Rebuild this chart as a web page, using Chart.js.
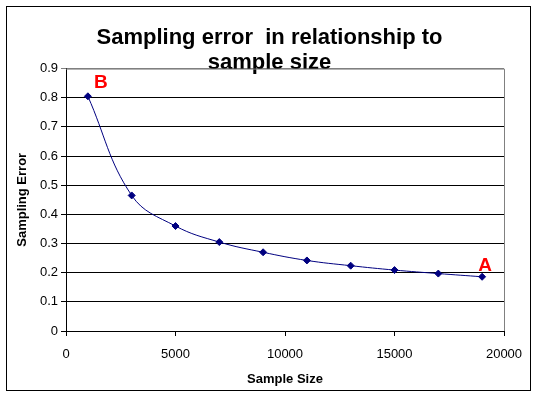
<!DOCTYPE html>
<html>
<head>
<meta charset="utf-8">
<script src="https://cdn.jsdelivr.net/npm/chart.js@4"></script>
<style>
  html, body { margin: 0; padding: 0; background: #fff; }
  #chart { display: block; }
</style>
</head>
<body>
<canvas id="chart" width="539" height="399"></canvas>
<script>
// values
const sampleSizes = [1000, 3000, 5000, 7000, 9000, 11000, 13000, 15000, 17000, 19000];
const samplingErrors = [0.805, 0.465, 0.36, 0.305, 0.27, 0.242, 0.224, 0.209, 0.197, 0.186];
const xTicks = [0, 5000, 10000, 15000, 20000];
const yTicks = [0, 0.1, 0.2, 0.3, 0.4, 0.5, 0.6, 0.7, 0.8, 0.9];
// letters written next to the first and last point
const markLetters = ["B", "A"];
const markIndex = [0, 9];

const points = sampleSizes.map((s, i) => ({ x: s, y: samplingErrors[i] }));

const font = "Arial, 'Liberation Sans', sans-serif";

// outer frame, grey plot border and the A / B letters
const extras = {
  id: "extras",
  afterDraw(chart) {
    const ctx = chart.ctx;
    const area = chart.chartArea;
    const meta = chart.getDatasetMeta(0);
    ctx.save();
    ctx.strokeStyle = "#000";
    ctx.lineWidth = 1;
    ctx.strokeRect(6.5, 6.5, 524, 384);

    ctx.strokeStyle = "#808080";
    ctx.beginPath();
    ctx.moveTo(area.left, area.top + 0.5);
    ctx.lineTo(area.right + 0.5, area.top + 0.5);
    ctx.lineTo(area.right + 0.5, area.bottom);
    ctx.stroke();

    ctx.fillStyle = "#ff0000";
    ctx.font = "bold 19px " + font;
    ctx.textAlign = "center";
    ctx.textBaseline = "middle";
    const offsets = [[13, -14], [3, -11]];
    markIndex.forEach((idx, i) => {
      const p = meta.data[idx];
      ctx.fillText(markLetters[i], p.x + offsets[i][0], p.y + offsets[i][1]);
    });
    ctx.restore();
  }
};

new Chart(document.getElementById("chart"), {
  type: "line",
  data: {
    datasets: [{
      data: points,
      borderColor: "#000080",
      backgroundColor: "#000080",
      borderWidth: 1,
      pointStyle: "rectRot",
      pointRadius: 3.5,
      pointHoverRadius: 3.5,
      tension: 0.4,
      fill: false
    }]
  },
  options: {
    responsive: false,
    animation: false,
    events: [],
    layout: { padding: { left: 8, right: 8, top: 0, bottom: 7 } },
    plugins: {
      legend: { display: false },
      tooltip: { enabled: false },
      title: {
        display: true,
        text: ["Sampling error  in relationship to", "sample size"],
        color: "#000",
        font: { family: font, size: 22, weight: "bold", lineHeight: 1.15 },
        padding: { top: 25, bottom: -7 }
      }
    },
    scales: {
      x: {
        type: "linear",
        min: 0,
        max: 20000,
        afterBuildTicks(axis) { axis.ticks = xTicks.map(v => ({ value: v })); },
        afterFit(axis) { axis.height = 61; },
        ticks: {
          color: "#000",
          font: { family: font, size: 13 },
          maxRotation: 0,
          padding: 11,
          callback: v => String(v)
        },
        grid: { drawOnChartArea: false, color: "#000", tickLength: 5 },
        border: { color: "#000", width: 1 },
        title: {
          display: true,
          text: "Sample Size",
          color: "#000",
          font: { family: font, size: 13, weight: "bold" },
          padding: { top: 2, bottom: 5 }
        }
      },
      y: {
        min: 0,
        max: 0.9,
        afterBuildTicks(axis) { axis.ticks = yTicks.map(v => ({ value: v })); },
        afterFit(axis) { axis.width = 58; },
        ticks: {
          color: "#000",
          font: { family: font, size: 13 },
          padding: 3,
          callback: v => String(Math.round(v * 10) / 10)
        },
        grid: {
          color: ctx => (ctx.tick && ctx.tick.value === 0.9 ? "#808080" : "#000"),
          tickLength: 5
        },
        border: { color: "#000", width: 1 },
        title: {
          display: true,
          text: "Sampling Error",
          color: "#000",
          font: { family: font, size: 13, weight: "bold" },
          padding: { top: 7, bottom: 0 }
        }
      },
      // empty right-hand strip so the title centres on the whole frame
      yRight: {
        position: "right",
        afterFit(axis) { axis.width = 27; },
        ticks: { display: false },
        grid: { display: false },
        border: { display: false }
      }
    }
  },
  plugins: [extras]
});
</script>
</body>
</html>
